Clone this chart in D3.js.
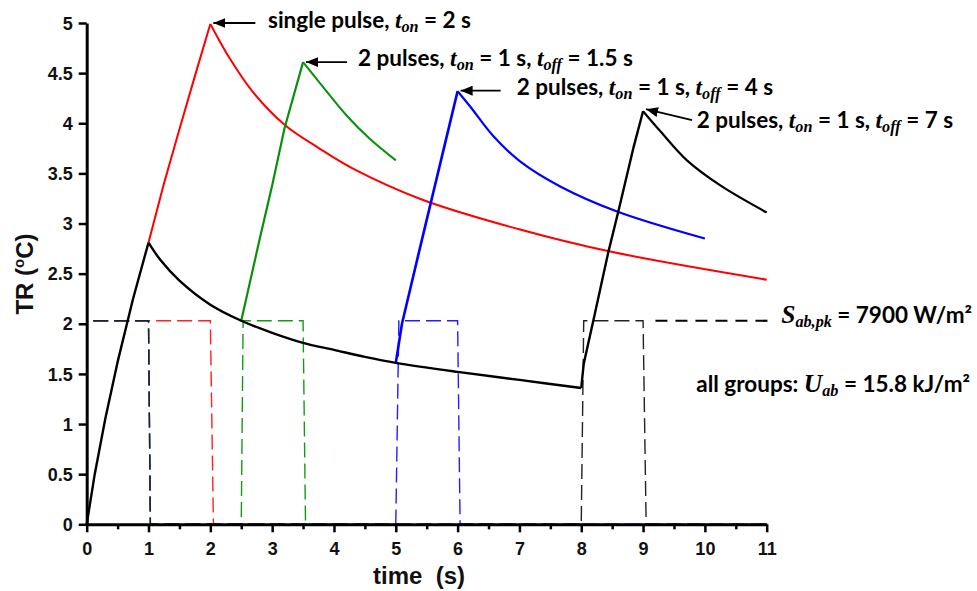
<!DOCTYPE html>
<html><head><meta charset="utf-8">
<script src="https://cdn.jsdelivr.net/npm/d3@7"></script>
<style>
html,body{margin:0;padding:0;background:#fff;}
svg{display:block;}
text{white-space:pre;}
</style></head><body>
<svg id="chart" width="977" height="591"></svg>
<script>
// ---- Temperature rise TR (°C) vs time (s) for four exposure groups ----
const blackRise1  = [[0,0],[0.13,0.5],[0.3,1.05],[0.5,1.62],[0.75,2.25],[1.0,2.81]];
const blackDecay1 = [[1.0,2.81],[1.2,2.63],[1.5,2.43],[2.0,2.19],[2.5,2.03],[3.0,1.91],[3.5,1.81],[4.0,1.74],[4.5,1.67],[5.0,1.61],[6.0,1.52],[7.0,1.44],[8.0,1.36]];
const blackRise2  = [[8.0,1.36],[8.04,1.6],[8.22,2.1],[8.44,2.72],[8.6,3.12],[8.85,3.77],[9.0,4.12]];
const blackDecay2 = [[9.0,4.12],[9.28,3.92],[9.71,3.63],[10.25,3.38],[11.0,3.11]];

const redRise   = [[1.0,2.81],[1.25,3.4],[1.5,3.94],[1.75,4.47],[2.0,4.99]];
const redDecay  = [[2.0,4.99],[2.31,4.65],[2.69,4.31],[3.21,3.98],[3.76,3.75],[4.30,3.55],[5.42,3.24],[7.01,2.94],[8.47,2.72],[11.0,2.44]];

const greenRise  = [[2.5,2.03],[2.8,2.85],[3.0,3.38],[3.2,3.95],[3.5,4.61]];
const greenDecay = [[3.5,4.61],[3.76,4.41],[4.2,4.08],[4.57,3.85],[5.0,3.63]];

const blueRise  = [[5.0,1.61],[5.1,2.0],[5.4,2.78],[6.0,4.32]];
const blueDecay = [[6.0,4.32],[6.2,4.17],[6.58,3.87],[7.01,3.62],[7.66,3.37],[8.58,3.12],[10.0,2.85]];

// ---- Absorbed irradiance pulse trains (drawn on the same scale, level of S_ab,pk) ----
const redPulse   = [[0,0],[0,2.03],[2.0,2.03],[2.05,0],[11,0]];
const greenPulse = [[0,0],[0,2.03],[1.0,2.03],[1.03,0],[2.5,0],[2.53,2.03],[3.5,2.03],[3.54,0],[5,0]];
const bluePulse  = [[0,0],[0,2.03],[1.0,2.03],[1.03,0],[5.0,0],[5.05,2.03],[6.0,2.03],[6.04,0],[10,0]];
const blackPulse = [[0,0],[0,2.03],[1.0,2.03],[1.03,0],[8.0,0],[8.04,2.03],[9.0,2.03],[9.05,0],[11,0]];
const peakLeader = [[9.2,2.03],[11.03,2.03]];

// ---- Ticks ----
const xTickValues  = [0,1,2,3,4,5,6,7,8,9,10,11];
const xMinorTicks  = [0.5,1.5,2.5,3.5,4.5,5.5,6.5,7.5,8.5,9.5,10.5];
const yTickValues  = [0,0.5,1,1.5,2,2.5,3,3.5,4,4.5,5];
const yTickLabels  = ["0","0.5","1","1.5","2","2.5","3","3.5","4","4.5","5"];

// ---- Peak annotations ----
const labelSingle = [["single pulse, ","n"],["t","i"],["on","s"],[" = 2 s","n"]];
const labelOff15  = [["2 pulses, ","n"],["t","i"],["on","s"],[" = 1 s, ","n"],["t","i"],["off","s"],[" = 1.5 s","n"]];
const labelOff4   = [["2 pulses, ","n"],["t","i"],["on","s"],[" = 1 s, ","n"],["t","i"],["off","s"],[" = 4 s","n"]];
const labelOff7   = [["2 pulses, ","n"],["t","i"],["on","s"],[" = 1 s, ","n"],["t","i"],["off","s"],[" = 7 s","n"]];
const labelPeak   = [["S","I"],["ab,pk","S"],[" = 7900 W/m²","n"]];
const labelDose   = [["all groups: ","n"],["U","I"],["ab","S"],[" = 15.8 kJ/m²","n"]];

const svg = d3.select("#chart");
const x = d3.scaleLinear().domain([0, 11]).range([86.7, 766.7]);
const y = d3.scaleLinear().domain([0, 5]).range([524.3, 23]);

const line = d3.line().x(d => x(d[0])).y(d => y(d[1]));
const curve = d3.line().x(d => x(d[0])).y(d => y(d[1])).curve(d3.curveCatmullRom.alpha(0.5));

// pulse trains, underneath the axes
const pulses = [[redPulse,"#ff2020"],[greenPulse,"#159a15"],[bluePulse,"#2020ff"],[blackPulse,"#222"]];
svg.append("g").selectAll("path").data(pulses).join("path")
  .attr("d", d => line(d[0]))
  .attr("fill","none").attr("stroke", d => d[1])
  .attr("stroke-width",1.4).attr("stroke-dasharray","15,6");

svg.append("path").attr("d", line(peakLeader))
  .attr("fill","none").attr("stroke","#000").attr("stroke-width",2.2)
  .attr("stroke-dasharray","12,8");

// axes
const tickFont = "'Liberation Sans', Arial, sans-serif";
const gx = svg.append("g").attr("transform",`translate(0,${y(0)})`)
  .call(d3.axisBottom(x).tickValues(xTickValues).tickFormat((d,i)=>String(xTickValues[i]))
        .tickSize(8).tickSizeOuter(0).tickPadding(10));
const gxm = svg.append("g").attr("transform",`translate(0,${y(0)})`)
  .call(d3.axisBottom(x).tickValues(xMinorTicks).tickFormat("").tickSize(5).tickSizeOuter(0));
gxm.select(".domain").remove();
const gy = svg.append("g").attr("transform",`translate(${x(0)},0)`)
  .call(d3.axisLeft(y).tickValues(yTickValues).tickFormat((d,i)=>yTickLabels[i])
        .tickSize(8).tickSizeOuter(0).tickPadding(6));
[gx,gy].forEach(g=>{
  g.select(".domain").attr("stroke","#000").attr("stroke-width",3);
  g.selectAll(".tick line").attr("stroke","#000").attr("stroke-width",2.5);
  g.selectAll(".tick text").attr("font-family",tickFont).attr("font-weight","bold")
   .attr("font-size",18).attr("fill","#111");
});
gxm.selectAll(".tick line").attr("stroke","#000").attr("stroke-width",2.5);
gy.selectAll(".tick text").attr("dy","0.34em");

// response curves: rises drawn straight, decays smoothed, so peaks stay sharp
const series = [
  [redRise,"#ff0000",2,line],[redDecay,"#ff0000",2,curve],
  [greenRise,"#0a8f0a",2.2,line],[greenDecay,"#0a8f0a",2,curve],
  [blueRise,"#0000ff",2.6,line],[blueDecay,"#0000ff",2.2,curve],
  [blackRise1,"#000",2.4,line],[blackDecay1,"#000",2.4,curve],[blackRise2,"#000",2.4,line],[blackDecay2,"#000",2.2,curve]
];
svg.append("g").selectAll("path").data(series).join("path")
  .attr("d", d => d[3](d[0]))
  .attr("fill","none").attr("stroke", d => d[1]).attr("stroke-width", d => d[2])
  .attr("stroke-linejoin","round");

// axis titles
svg.append("text").attr("transform","translate(33,274) rotate(-90)")
  .attr("text-anchor","middle").attr("font-family",tickFont).attr("font-weight","bold")
  .attr("font-size",24).attr("fill","#111")
  .call(t=>{ t.append("tspan").text("TR (");
             t.append("tspan").attr("font-size",15).attr("dy",-9).text("o");
             t.append("tspan").attr("dy",9).text("C)"); });
svg.append("text").attr("x",419).attr("y",584).attr("text-anchor","middle")
  .attr("font-family",tickFont).attr("font-weight","bold").attr("font-size",24).attr("fill","#111")
  .text("time\u00a0 (s)");

// annotations
svg.append("defs").append("marker").attr("id","head")
  .attr("viewBox","0 0 12 10").attr("refX",12).attr("refY",5)
  .attr("markerWidth",12).attr("markerHeight",10).attr("markerUnits","userSpaceOnUse")
  .attr("orient","auto")
  .append("path").attr("d","M0,0 L12,5 L0,10 Z").attr("fill","#000");

const sansFont = "Lato, 'Open Sans', sans-serif";
const serifFont = "'Liberation Serif', 'DejaVu Serif', serif";
function richText(px, py, parts, size, anchor){
  const t = svg.append("text").attr("x",px).attr("y",py).attr("text-anchor", anchor || "start")
    .attr("font-family",sansFont).attr("font-weight","bold").attr("font-size",size).attr("fill","#000");
  let shifted = 0;
  parts.forEach(([s,k])=>{
    const sp = t.append("tspan").text(s);
    if (k==="i"||k==="I"){
      sp.attr("font-family",serifFont).attr("font-style","italic").attr("font-size", k==="I"? size+3 : size+1);
    }
    if (k==="s"||k==="S"){
      sp.attr("font-family",serifFont).attr("font-style","italic")
        .attr("font-size", size*0.72).attr("dy",4);
      shifted = 4;
    } else if (shifted){ sp.attr("dy",-shifted); shifted = 0; }
  });
  return t;
}
function arrow(from, to){
  svg.append("line").attr("x1",from[0]).attr("y1",from[1]).attr("x2",to[0]).attr("y2",to[1])
    .attr("stroke","#000").attr("stroke-width",1.8).attr("marker-end","url(#head)");
}
const peaks = [
  [redDecay[0], 255-213, -1, labelSingle, 268, 27.5],
  [greenDecay[0], 348-307, 0, labelOff15, 358, 66],
  [blueDecay[0], 502.7-462.7, -0.5, labelOff4, 516.7, 95],
  [blackDecay2[0], 46, -2, labelOff7, 696.7, 128]
];
peaks.forEach(([p, len, dyTip, lab, tx, ty], i)=>{
  const tip = [x(p[0]) + 3, y(p[1]) + dyTip];
  const tail = i===3 ? [tip[0]+len, tip[1]+11] : [tip[0]+len, tip[1]];
  arrow(tail, tip);
  richText(tx, ty, lab, 22.5);
});
richText(972, 323, labelPeak, 22.5, "end");
richText(970, 391.7, labelDose, 22.5, "end");
</script>
</body></html>
